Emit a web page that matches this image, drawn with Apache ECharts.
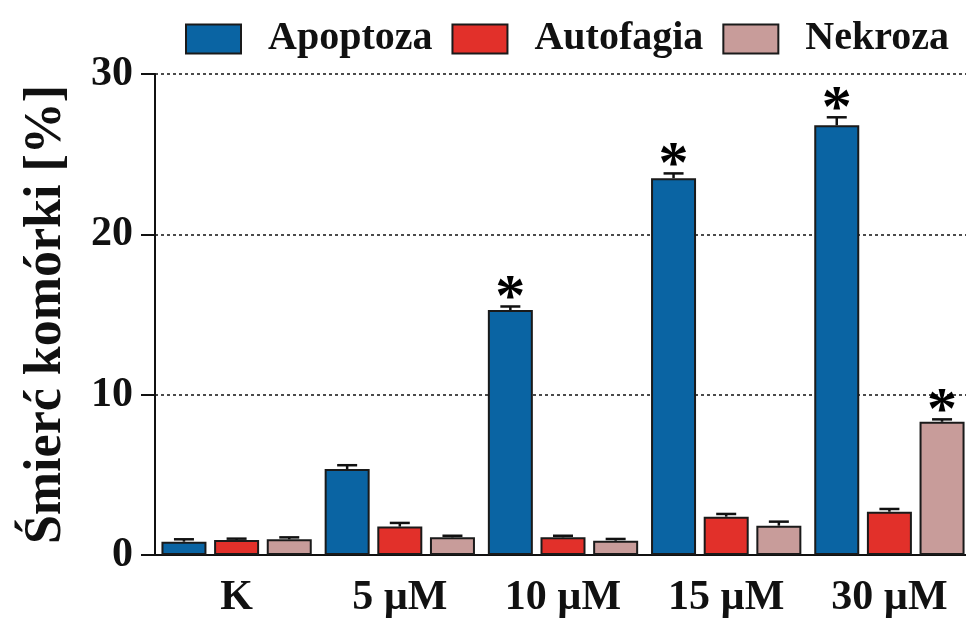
<!DOCTYPE html>
<html>
<head>
<meta charset="utf-8">
<script src="https://cdn.jsdelivr.net/npm/echarts@6/dist/echarts.min.js"></script>
<style>html,body{margin:0;padding:0;background:#fff}#c{width:966px;height:623px}</style>
</head>
<body>
<div id="c"></div>
<script>
const categories = ['K', '5 µM', '10 µM', '15 µM', '30 µM'];
const seriesNames = ['Apoptoza', 'Autofagia', 'Nekroza'];
const apoptoza = [0.83, 5.36, 15.28, 23.5, 26.8];
const autofagia = [0.94, 1.77, 1.1, 2.39, 2.7];
const nekroza = [0.98, 1.1, 0.89, 1.83, 8.31];
const apoptozaErr = [0.15, 0.24, 0.22, 0.3, 0.5];
const autofagiaErr = [0.08, 0.23, 0.1, 0.17, 0.17];
const nekrozaErr = [0.12, 0.1, 0.11, 0.25, 0.15];
const apoptozaSig = [0, 0, 1, 1, 1];
const autofagiaSig = [0, 0, 0, 0, 0];
const nekrozaSig = [0, 0, 0, 0, 1];
const yTicks = [0, 10, 20, 30];

const colors = ['#0a64a3', '#e2302a', '#c89c9a'];
const FONT = '"Liberation Serif", "Times New Roman", serif';
const BAR_W = 45;
const GAP = 0.17;

const values = [apoptoza, autofagia, nekroza];
const errs = [apoptozaErr, autofagiaErr, nekrozaErr];
const sigs = [apoptozaSig, autofagiaSig, nekrozaSig];

const chart = echarts.init(document.getElementById('c'));

const series = [];
seriesNames.forEach((name, s) => {
  series.push({
    name: name,
    type: 'bar',
    data: values[s],
    barWidth: BAR_W,
    barGap: (GAP * 100) + '%',
    itemStyle: { color: colors[s], borderColor: '#1a1a1a', borderWidth: 2 },
    emphasis: { disabled: true },
    z: 2
  });
});
seriesNames.forEach((name, s) => {
  const off = (s - 1) * BAR_W * (1 + GAP);
  series.push({
    type: 'custom',
    name: name + '_err',
    data: values[s].map((v, i) => [i, v, errs[s][i], sigs[s][i]]),
    z: 3,
    silent: true,
    renderItem: function (params, api) {
      const i = api.value(0), v = api.value(1), e = api.value(2), sig = api.value(3);
      const p0 = api.coord([i, v]);
      const p1 = api.coord([i, v + e]);
      const x = p0[0] + off;
      const children = [
        { type: 'line', shape: { x1: x, y1: p0[1], x2: x, y2: p1[1] }, style: { stroke: '#111', lineWidth: 2.5 } },
        { type: 'line', shape: { x1: x - 10, y1: p1[1], x2: x + 10, y2: p1[1] }, style: { stroke: '#111', lineWidth: 2.5 } }
      ];
      if (sig) {
        children.push({
          type: 'text',
          style: { x: x, y: p1[1] + 23, text: '*', fill: '#000', font: 'bold 60px ' + FONT, align: 'center', verticalAlign: 'bottom' }
        });
      }
      return { type: 'group', children: children };
    }
  });
});

chart.setOption({
  animation: false,
  backgroundColor: '#fff',
  legend: {
    data: seriesNames,
    left: 180,
    top: 14,
    width: 800,
    itemWidth: 55,
    itemHeight: 29,
    itemGap: 19,
    icon: 'rect',
    textStyle: { fontFamily: FONT, fontWeight: 'bold', fontSize: 40, color: '#111', padding: [0, 0, 0, 22] }
  },
  grid: { left: 155, top: 74, width: 816, height: 481, outerBoundsMode: 'none', containLabel: false },
  xAxis: {
    type: 'category',
    data: categories,
    axisLine: { lineStyle: { color: '#111', width: 2 } },
    axisTick: { alignWithLabel: true, length: 14, lineStyle: { color: '#111', width: 2 } },
    axisLabel: { fontFamily: FONT, fontWeight: 'bold', fontSize: 42, color: '#111', margin: 22 }
  },
  yAxis: {
    type: 'value',
    min: yTicks[0],
    max: yTicks[yTicks.length - 1],
    interval: 10,
    name: 'Śmierć komórki [%]',
    nameLocation: 'middle',
    nameGap: 82,
    nameTextStyle: { fontFamily: FONT, fontWeight: 'bold', fontSize: 52, color: '#111' },
    axisLine: { show: true, lineStyle: { color: '#111', width: 2 } },
    axisTick: { show: true, length: 14, lineStyle: { color: '#111', width: 2 } },
    axisLabel: { fontFamily: FONT, fontWeight: 'bold', fontSize: 42, color: '#111', margin: 22 },
    splitLine: { show: true, lineStyle: { color: '#111', type: [3, 3], width: 1.5 } }
  },
  series: series
});
</script>
</body>
</html>
